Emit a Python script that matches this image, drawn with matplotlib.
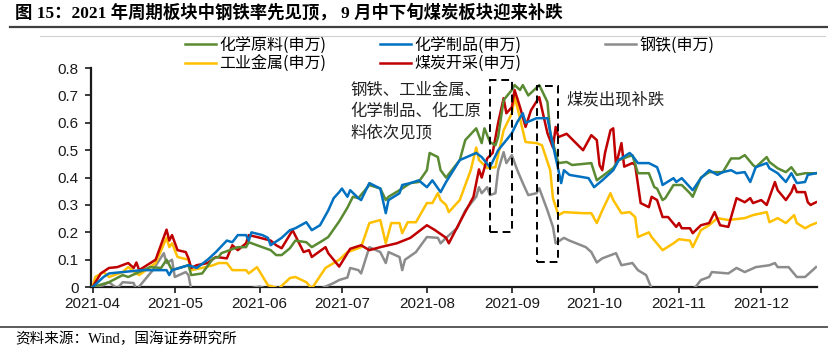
import matplotlib
matplotlib.use("Agg")
import matplotlib.pyplot as plt
import matplotlib.dates as mdates
from matplotlib.lines import Line2D
from matplotlib.patches import Rectangle
import pandas as pd

plt.rcParams['font.family'] = ['Liberation Sans', 'Noto Sans CJK SC', 'DejaVu Sans']
cjk = ['Noto Sans CJK SC', 'DejaVu Sans']
serif_cjk = ['Liberation Serif', 'Noto Sans CJK SC', 'DejaVu Sans']

# 化学原料(申万)
hgyl_dates = ['04-01', '04-07', '04-12', '04-14', '04-22', '04-26', '04-28', '04-30', '05-06', '05-07',
              '05-11', '05-15', '05-17', '05-18', '05-24', '05-27', '05-28', '05-31', '06-05', '06-07',
              '06-09', '06-12', '06-14', '06-18', '06-20', '06-24', '06-26', '06-30', '07-03', '07-05',
              '07-07', '07-11', '07-15', '07-17', '07-18', '07-22', '07-26', '07-29', '08-01', '08-02',
              '08-05', '08-06', '08-08', '08-13', '08-15', '08-19', '08-21', '08-22', '08-24', '08-26',
              '08-27', '08-29', '09-01', '09-02', '09-04', '09-05', '09-07', '09-11', '09-14', '09-15',
              '09-17', '09-18', '09-21', '09-23', '09-30', '10-02', '10-08', '10-10', '10-13', '10-15',
              '10-17', '10-21', '10-23', '10-24', '10-26', '10-27', '10-30', '11-02', '11-05', '11-06',
              '11-09', '11-12', '11-17', '11-20', '11-23', '11-25', '11-28', '11-29', '12-03', '12-04',
              '12-07', '12-10', '12-12', '12-14', '12-17', '12-21']
hgyl_vals = [0.0, 0.018, 0.044, 0.037, 0.073, 0.07, 0.10, 0.062, 0.08, 0.044,
             0.05, 0.105, 0.11, 0.124, 0.146, 0.146, 0.164, 0.153, 0.135, 0.117,
             0.117, 0.142, 0.17, 0.164, 0.146, 0.17, 0.183, 0.24, 0.29, 0.33,
             0.325, 0.373, 0.36, 0.318, 0.33, 0.354, 0.38, 0.384, 0.427, 0.49,
             0.475, 0.427, 0.40, 0.464, 0.537, 0.58, 0.526, 0.58, 0.53, 0.518,
             0.548, 0.683, 0.72, 0.738, 0.72, 0.738, 0.70, 0.738, 0.676, 0.562,
             0.49, 0.453, 0.457, 0.446, 0.453, 0.39, 0.435, 0.464, 0.475, 0.482,
             0.416, 0.416, 0.365, 0.36, 0.318, 0.325, 0.373, 0.373, 0.343, 0.33,
             0.40, 0.42, 0.42, 0.47, 0.47, 0.482, 0.446, 0.438, 0.475, 0.457,
             0.434, 0.42, 0.438, 0.41, 0.416, 0.416]

# 化学制品(申万)
hxzp_dates = ['04-01', '04-05', '04-07', '04-12', '04-19', '04-28', '04-29', '04-30', '05-06', '05-09',
              '05-13', '05-16', '05-20', '05-22', '05-24', '05-27', '05-28', '05-29', '06-02', '06-04',
              '06-05', '06-06', '06-09', '06-12', '06-14', '06-18', '06-20', '06-23', '06-26', '06-28',
              '06-30', '07-01', '07-03', '07-04', '07-07', '07-08', '07-11', '07-15', '07-17', '07-18',
              '07-22', '07-23', '07-26', '07-29', '08-01', '08-03', '08-06', '08-08', '08-13', '08-19',
              '08-21', '08-24', '08-27', '08-30', '09-01', '09-03', '09-05', '09-06', '09-10', '09-14',
              '09-16', '09-18', '09-19', '09-20', '09-22', '09-29', '10-01', '10-04', '10-08', '10-10',
              '10-14', '10-15', '10-17', '10-21', '10-24', '10-25', '10-26', '10-30', '10-31', '11-02',
              '11-06', '11-09', '11-12', '11-15', '11-17', '11-20', '11-22', '11-25', '11-27', '11-29',
              '12-03', '12-04', '12-07', '12-10', '12-12', '12-14', '12-17', '12-18', '12-21']
hxzp_vals = [0.0, 0.037, 0.05, 0.055, 0.062, 0.062, 0.044, 0.062, 0.08, 0.07,
             0.10, 0.128, 0.17, 0.164, 0.19, 0.19, 0.17, 0.20, 0.19, 0.18,
             0.153, 0.16, 0.18, 0.208, 0.215, 0.237, 0.208, 0.226, 0.28, 0.325,
             0.347, 0.36, 0.33, 0.354, 0.325, 0.318, 0.38, 0.36, 0.27, 0.318,
             0.343, 0.373, 0.38, 0.39, 0.365, 0.39, 0.347, 0.384, 0.464, 0.49,
             0.475, 0.438, 0.50, 0.537, 0.562, 0.603, 0.635, 0.60, 0.617, 0.617,
             0.518, 0.427, 0.38, 0.427, 0.41, 0.398, 0.365, 0.39, 0.427, 0.464,
             0.49, 0.48, 0.453, 0.453, 0.438, 0.41, 0.373, 0.398, 0.384, 0.398,
             0.354, 0.398, 0.427, 0.41, 0.42, 0.427, 0.416, 0.42, 0.384, 0.438,
             0.453, 0.434, 0.416, 0.384, 0.416, 0.38, 0.384, 0.41, 0.416]

# 钢铁(申万)，低于0的部分被坐标轴截掉
gt_dates = ['04-01', '04-05', '04-07', '04-10', '04-12', '04-16', '04-17', '04-23', '04-27', '04-28',
            '04-30', '05-01', '05-05', '05-06', '05-07', '05-10', '05-20', '06-01', '06-10', '06-20',
            '06-28', '06-30', '07-03', '07-04', '07-07', '07-08', '07-11', '07-15', '07-17', '07-18',
            '07-22', '07-23', '07-24', '07-28', '08-01', '08-05', '08-06', '08-08', '08-12', '08-15',
            '08-19', '08-20', '08-21', '08-23', '08-24', '08-26', '08-27', '08-29', '08-30', '09-01',
            '09-03', '09-05', '09-07', '09-10', '09-11', '09-14', '09-16', '09-17', '09-20', '09-22',
            '09-28', '09-30', '10-02', '10-04', '10-09', '10-11', '10-15', '10-17', '10-20', '10-22',
            '10-27', '10-30', '11-05', '11-07', '11-09', '11-12', '11-13', '11-19', '11-22', '11-25',
            '11-29', '12-04', '12-06', '12-07', '12-11', '12-14', '12-17', '12-19', '12-21']
gt_vals = [0.0, 0.007, 0.018, -0.005, 0.018, 0.015, -0.01, 0.062, 0.124, 0.088,
           0.10, 0.037, 0.055, 0.044, -0.01, -0.03, -0.02, 0.002, -0.03, -0.02,
           0.015, 0.026, 0.035, 0.07, 0.062, 0.05, 0.146, 0.128, 0.088, 0.128,
           0.11, 0.062, 0.10, 0.128, 0.183, 0.18, 0.16, 0.18, 0.215, 0.28,
           0.33, 0.365, 0.343, 0.365, 0.336, 0.343, 0.427, 0.493, 0.453, 0.482,
           0.427, 0.38, 0.336, 0.343, 0.361, 0.28, 0.22, 0.16, 0.18, 0.17,
           0.146, 0.128, 0.09, 0.105, 0.124, 0.08, 0.088, 0.062, 0.044, -0.005,
           -0.03, -0.02, -0.01, 0.0, 0.026, 0.037, 0.055, 0.05, 0.07, 0.055,
           0.073, 0.08, 0.088, 0.073, 0.073, 0.037, 0.037, 0.055, 0.073]

# 工业金属(申万)
gyjs_dates = ['04-01', '04-02', '04-05', '04-07', '04-12', '04-14', '04-17', '04-18', '04-24', '04-28',
              '04-29', '04-30', '05-02', '05-06', '05-07', '05-11', '05-15', '05-17', '05-20', '05-22',
              '05-27', '05-28', '05-31', '06-04', '06-08', '06-12', '06-14', '06-18', '06-20', '06-25',
              '06-30', '07-03', '07-05', '07-08', '07-11', '07-15', '07-17', '07-19', '07-22', '07-23',
              '07-25', '07-28', '08-01', '08-03', '08-05', '08-06', '08-08', '08-09', '08-13', '08-17',
              '08-19', '08-20', '08-23', '08-26', '08-29', '09-01', '09-02', '09-03', '09-06', '09-10',
              '09-12', '09-15', '09-16', '09-18', '09-20', '09-27', '09-30', '10-02', '10-04', '10-07',
              '10-08', '10-11', '10-14', '10-16', '10-17', '10-21', '10-22', '10-26', '10-30', '11-01',
              '11-05', '11-06', '11-09', '11-12', '11-15', '11-19', '11-25', '11-28', '12-03', '12-04',
              '12-07', '12-10', '12-13', '12-14', '12-17', '12-19', '12-21']
gyjs_vals = [0.0, 0.037, 0.055, 0.037, 0.055, 0.073, 0.05, 0.044, 0.088, 0.18,
             0.146, 0.16, 0.11, 0.10, 0.062, 0.07, 0.08, 0.088, 0.088, 0.062,
             0.062, 0.05, 0.073, 0.007, -0.005, 0.033, 0.037, 0.018, -0.005, 0.07,
             0.10, 0.128, 0.135, 0.146, 0.234, 0.245, 0.16, 0.234, 0.234, 0.197,
             0.237, 0.237, 0.307, 0.307, 0.343, 0.318, 0.30, 0.274, 0.318, 0.427,
             0.51, 0.464, 0.435, 0.438, 0.573, 0.635, 0.694, 0.657, 0.53, 0.526,
             0.518, 0.427, 0.325, 0.263, 0.274, 0.27, 0.27, 0.234, 0.28, 0.343,
             0.318, 0.27, 0.274, 0.256, 0.183, 0.20, 0.183, 0.135, 0.16, 0.175,
             0.17, 0.146, 0.208, 0.226, 0.252, 0.245, 0.252, 0.263, 0.274, 0.237,
             0.252, 0.234, 0.263, 0.234, 0.215, 0.226, 0.234]

# 煤炭开采(申万)
mt_dates = ['04-01', '04-04', '04-07', '04-10', '04-14', '04-16', '04-17', '04-18', '04-24', '04-28',
            '04-29', '04-30', '05-02', '05-05', '05-06', '05-07', '05-09', '05-13', '05-16', '05-20',
            '05-22', '05-24', '05-27', '05-28', '05-31', '06-05', '06-07', '06-09', '06-13', '06-17',
            '06-19', '06-20', '06-25', '06-26', '06-30', '07-04', '07-08', '07-11', '07-15', '07-21',
            '07-26', '08-01', '08-04', '08-08', '08-09', '08-14', '08-18', '08-20', '08-21', '08-23',
            '08-25', '08-27', '08-29', '08-30', '09-01', '09-02', '09-04', '09-06', '09-08', '09-11',
            '09-14', '09-16', '09-17', '09-18', '09-21', '09-27', '09-30', '10-02', '10-03', '10-04',
            '10-05', '10-07', '10-08', '10-09', '10-11', '10-12', '10-15', '10-16', '10-18', '10-21',
            '10-22', '10-24', '10-26', '10-28', '10-31', '11-01', '11-02', '11-05', '11-06', '11-09',
            '11-12', '11-14', '11-16', '11-19', '11-22', '11-25', '11-27', '11-28', '12-01', '12-03',
            '12-06', '12-07', '12-10', '12-12', '12-13', '12-14', '12-17', '12-18', '12-19', '12-21']
mt_vals = [0.0, 0.05, 0.07, 0.073, 0.088, 0.07, 0.09, 0.062, 0.10, 0.21,
           0.17, 0.19, 0.135, 0.128, 0.105, 0.07, 0.08, 0.088, 0.11, 0.105,
           0.153, 0.135, 0.16, 0.19, 0.183, 0.17, 0.153, 0.142, 0.208, 0.128,
           0.135, 0.11, 0.146, 0.124, 0.075, 0.14, 0.153, 0.135, 0.146, 0.16,
           0.18, 0.226, 0.208, 0.18, 0.16, 0.256, 0.33, 0.43, 0.40, 0.47,
           0.49, 0.60, 0.69, 0.635, 0.657, 0.72, 0.657, 0.585, 0.646, 0.694,
           0.562, 0.51, 0.585, 0.548, 0.56, 0.50, 0.555, 0.537, 0.446, 0.427,
           0.49, 0.573, 0.58, 0.446, 0.526, 0.44, 0.453, 0.446, 0.307, 0.292,
           0.33, 0.318, 0.256, 0.256, 0.22, 0.234, 0.215, 0.215, 0.197, 0.226,
           0.234, 0.274, 0.226, 0.22, 0.325, 0.31, 0.325, 0.307, 0.318, 0.30,
           0.384, 0.354, 0.318, 0.347, 0.373, 0.347, 0.347, 0.31, 0.30, 0.31]

series = [
    ('化学原料(申万)', hgyl_dates, hgyl_vals, '#5A8A32'),
    ('工业金属(申万)', gyjs_dates, gyjs_vals, '#FFC000'),
    ('化学制品(申万)', hxzp_dates, hxzp_vals, '#0070C0'),
    ('煤炭开采(申万)', mt_dates, mt_vals, '#C00000'),
    ('钢铁(申万)', gt_dates, gt_vals, '#8C8C8C'),
]
draw_order = ['钢铁(申万)', '工业金属(申万)', '煤炭开采(申万)', '化学原料(申万)', '化学制品(申万)']

fig = plt.figure(figsize=(8.29, 3.51), dpi=100)
ax = fig.add_axes([0.110, 0.182, 0.876, 0.624])

handles = {}
for name, d, v, c in series:
    x = pd.to_datetime(['2021-' + s for s in d])
    ln, = ax.plot(x, v, color=c, lw=1.8, zorder=3 + draw_order.index(name))
    handles[name] = ln

ax.set_ylim(0, 0.8)
ax.set_xlim(pd.Timestamp('2021-03-31 12:00'), pd.Timestamp('2021-12-21 12:00'))
ax.set_yticks([0, 0.1, 0.2, 0.3, 0.4, 0.5, 0.6, 0.7, 0.8])
ax.set_yticklabels(['0', '0.1', '0.2', '0.3', '0.4', '0.5', '0.6', '0.7', '0.8'])
ax.xaxis.set_major_locator(mdates.MonthLocator())
ax.xaxis.set_major_formatter(mdates.DateFormatter('%Y-%m'))
for sp in ['top', 'right']:
    ax.spines[sp].set_visible(False)
for sp in ['left', 'bottom']:
    ax.spines[sp].set_linewidth(1.6)
    ax.spines[sp].set_color('#1a1a1a')
ax.tick_params(axis='both', direction='out', length=4, width=1.2, labelsize=11, colors='#1a1a1a')
ax.tick_params(axis='y', pad=5)
ax.tick_params(axis='x', pad=3)

# 虚线框
box_style = dict(fill=False, ls=(0, (4, 2.5)), lw=1.4, ec='black', zorder=10)
b1x0, b1x1 = mdates.date2num(pd.Timestamp('2021-08-24')), mdates.date2num(pd.Timestamp('2021-09-01'))
b2x0, b2x1 = mdates.date2num(pd.Timestamp('2021-09-10')), mdates.date2num(pd.Timestamp('2021-09-18'))
ax.add_patch(Rectangle((b1x0, 0.20), b1x1 - b1x0, 0.556, **box_style))
ax.add_patch(Rectangle((b2x0, 0.091), b2x1 - b2x0, 0.643, **box_style))

ax.text(pd.Timestamp('2021-07-04'), 0.748, '钢铁、工业金属、\n化学制品、化工原\n料依次见顶',
        family=cjk, fontsize=11.8, color='#222222', va='top', ha='left', linespacing=1.3)
ax.text(pd.Timestamp('2021-09-21'), 0.683, '煤炭出现补跌',
        family=cjk, fontsize=11.8, color='#222222', va='center', ha='left')

# 图例分三列摆放
legend_cols = [(['化学原料(申万)', '工业金属(申万)'], 185),
               (['化学制品(申万)', '煤炭开采(申万)'], 380),
               (['钢铁(申万)'], 605)]
for names, px in legend_cols:
    fig.legend([handles[n] for n in names], names, loc='upper left',
               bbox_to_anchor=(px / 829, 1 - 37 / 351), frameon=False,
               prop={'family': cjk, 'size': 11.5}, handlelength=1.95, handletextpad=0.2,
               borderpad=0, borderaxespad=0, labelspacing=0.08)

# 标题、分隔线、来源
fig.text(15 / 829, 1 - 13 / 351, '图 15：2021 年周期板块中钢铁率先见顶， 9 月中下旬煤炭板块迎来补跌',
         family=serif_cjk, fontsize=12.5, fontweight='bold', va='center', ha='left', color='black')
fig.add_artist(Line2D([10 / 829, 1], [1 - 27 / 351] * 2, color='#404040', lw=1.6))
fig.add_artist(Line2D([40 / 829, 825 / 829], [1 - 36 / 351] * 2, color='#d0d0d0', lw=0.8))
fig.add_artist(Line2D([0, 1], [1 - 327 / 351] * 2, color='#404040', lw=1.2))
fig.text(15 / 829, 1 - 339 / 351, '资料来源：Wind，国海证券研究所',
         family=serif_cjk, fontsize=10.5, va='center', ha='left', color='black')

fig.savefig('out.png', dpi=100)
